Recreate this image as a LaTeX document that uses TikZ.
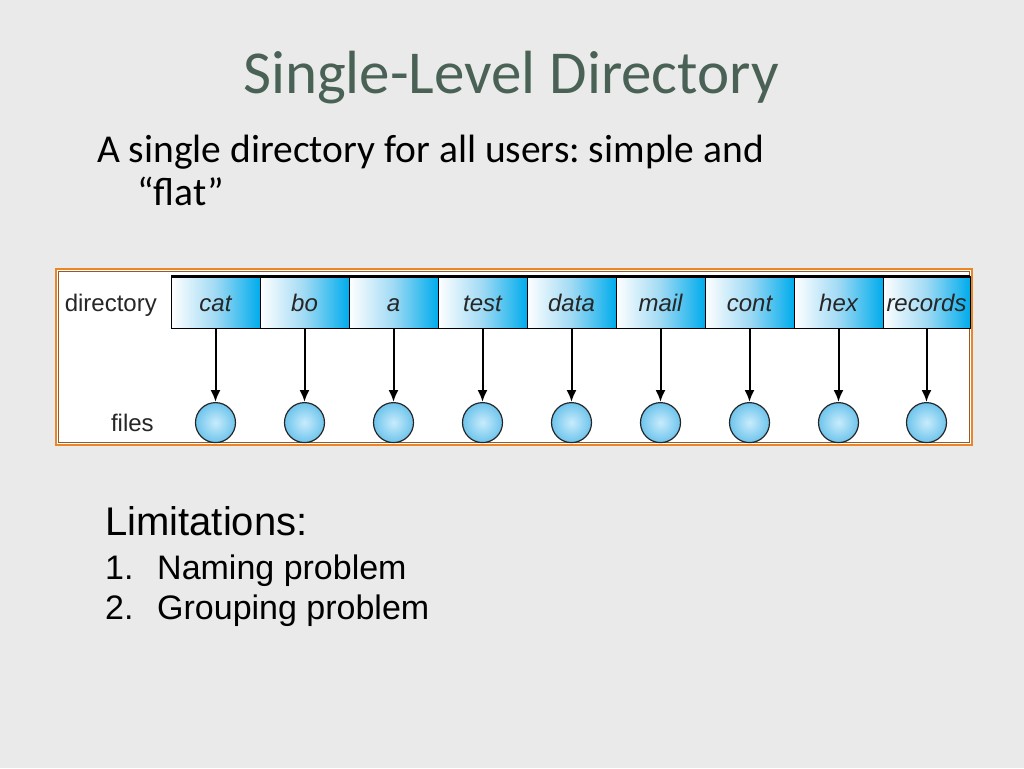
\documentclass[tikz,border=0pt]{standalone}
\usepackage{fontspec}
\setmainfont{Carlito}
\newfontfamily\helv{Liberation Sans}
\usepackage{xcolor}
\usetikzlibrary{positioning,arrows.meta}

\definecolor{slidebg}{RGB}{234,234,234}
\definecolor{titlegreen}{RGB}{74,98,86}
\definecolor{frameorange}{RGB}{232,134,40}
\definecolor{framebrown}{RGB}{150,90,40}
\definecolor{cellcyan}{RGB}{0,172,236}
\definecolor{celllight}{RGB}{160,218,244}
\definecolor{fileinner}{RGB}{200,236,252}
\definecolor{fileouter}{RGB}{110,196,236}

\begin{document}
\frenchspacing
\begin{tikzpicture}[x=1pt,y=1pt,>={Latex[length=12pt,width=10pt]},
  dirent/.style={rectangle,draw,line width=1pt,minimum width=89pt,
    minimum height=52pt,inner sep=0pt,outer sep=0pt,
    left color=white,right color=cellcyan,middle color=celllight,
    text height=19pt,text depth=1pt,
    text=black!85,font=\helv\itshape\fontsize{24}{28}\selectfont},
  fileball/.style={circle,draw=black!85,line width=1.2pt,minimum size=40pt,
    inner sep=0pt,inner color=fileinner,outer color=fileouter},
  rowlabel/.style={inner sep=2pt,text height=19pt,text depth=1pt,
    text=black!85,font=\helv\fontsize{24}{28}\selectfont},
  slidetext/.style={anchor=base west,inner sep=0pt}]
  % slide background
  \fill[slidebg] (0,0) rectangle (1024,-768);

  \node[anchor=base,inner sep=0pt,text=titlegreen,
    font=\fontsize{61}{70}\selectfont] (title) at (511,-93) {Single-Level Directory};
  \node[slidetext,font=\fontsize{39.5}{48}\selectfont] (intro) at (97,-162)
    {A single directory for all users: simple and};
  \node[slidetext,font=\fontsize{39.5}{48}\selectfont] (flat) at (137,-205) {“flat”};

  % the figure
  \fill[white] (57,-270) rectangle (971,-444);
  \draw[frameorange,line width=2pt] (56,-269) rectangle (972,-445);
  \draw[framebrown,line width=0.6pt] (58.5,-271.5) rectangle (969.5,-442.5);

  \node[dirent] (cat) at (215.5,-302) {cat};
  \node[dirent,right=0pt of cat] (bo) {bo};
  \node[dirent,right=0pt of bo] (a) {a};
  \node[dirent,right=0pt of a] (test) {test};
  \node[dirent,right=0pt of test] (data) {data};
  \node[dirent,right=0pt of data] (mail) {mail};
  \node[dirent,right=0pt of mail] (cont) {cont};
  \node[dirent,right=0pt of cont] (hex) {hex};
  \node[dirent,right=0pt of hex,minimum width=87pt] (records) {records};
  \draw[line width=3pt] (cat.north west) -- (records.north east);

  \node[fileball,below=74pt of cat] (fcat) {};
  \node[fileball,below=74pt of bo] (fbo) {};
  \node[fileball,below=74pt of a] (fa) {};
  \node[fileball,below=74pt of test] (ftest) {};
  \node[fileball,below=74pt of data] (fdata) {};
  \node[fileball,below=74pt of mail] (fmail) {};
  \node[fileball,below=74pt of cont] (fcont) {};
  \node[fileball,below=74pt of hex] (fhex) {};
  \node[fileball,below=74pt of records] (frecords) {};

  \draw[->,line width=2pt] (cat) -- (fcat);
  \draw[->,line width=2pt] (bo) -- (fbo);
  \draw[->,line width=2pt] (a) -- (fa);
  \draw[->,line width=2pt] (test) -- (ftest);
  \draw[->,line width=2pt] (data) -- (fdata);
  \draw[->,line width=2pt] (mail) -- (fmail);
  \draw[->,line width=2pt] (cont) -- (fcont);
  \draw[->,line width=2pt] (hex) -- (fhex);
  \draw[->,line width=2pt] (records) -- (frecords);

  \node[rowlabel,left=12pt of cat] (dirlabel) {directory};
  \node[rowlabel,left=39pt of fcat] (fileslabel) {files};

  % limitations
  \node[slidetext,font=\helv\fontsize{40}{46}\selectfont] (limits) at (105,-535) {Limitations:};
  \node[slidetext,font=\helv\fontsize{34}{42}\selectfont] (num1) at (105,-579) {1.};
  \node[slidetext,font=\helv\fontsize{34}{42}\selectfont] (naming) at (157,-579) {Naming problem};
  \node[slidetext,font=\helv\fontsize{34}{42}\selectfont] (num2) at (105,-619) {2.};
  \node[slidetext,font=\helv\fontsize{34}{42}\selectfont] (grouping) at (157,-619) {Grouping problem};
\end{tikzpicture}
\end{document}
